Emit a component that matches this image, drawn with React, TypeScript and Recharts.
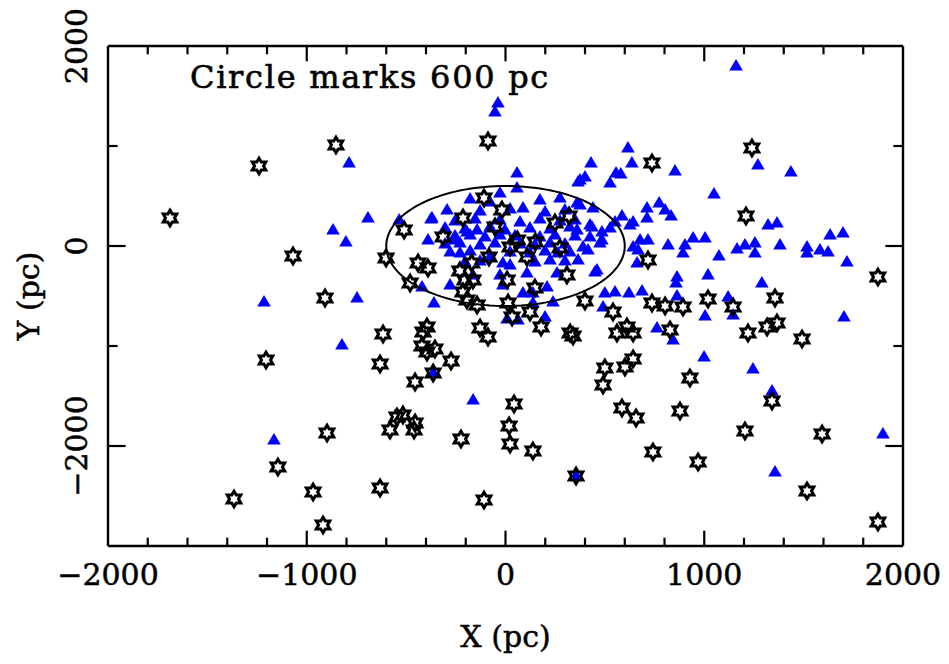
import React from 'react';
import { ScatterChart, Scatter, XAxis, YAxis, Customized } from 'recharts';

// ---- axis definitions ----
const xDomain: [number, number] = [-2000, 2000];
const yDomain: [number, number] = [-3000, 2000];
const xTicks = [-2000, -1800, -1600, -1400, -1200, -1000, -800, -600, -400, -200, 0, 200, 400, 600, 800, 1000, 1200, 1400, 1600, 1800, 2000];
const yTicks = [-3000, -2000, -1000, 0, 1000, 2000];
const xLabelValues = [-2000, -1000, 0, 1000, 2000];
const yLabelValues = [-2000, 0, 2000];
const xTitle = 'X (pc)';
const yTitle = 'Y (pc)';
const noteText = 'Circle marks 600 pc';
const circleRadius = 600;

// ---- blue triangles (X, Y in pc) ----
const triangleX = [
  1160, -38, -53, -787, 430, 58, 365, 400, 526, 556, -692, -868, -803, -535, -370, -294, -28, 58, 88, 360,
  440, 435, 485, 1270, 1436, 616, 636, 853, 580, 1049, 773, 712, 803, 833, 586, 551, 642, 712, 1321, 1366,
  677, 717, 667, 818, 903, 944, 1004, 893, 1074, 1165, 1205, 1255, 1255, 1381, 1517, 1517, 1582, 1623, 1633, 1698,
  1718, 662, 1019, 863, 858, 1290, 500, 551, 621, 687, 863, 1120, 1004, 1145, 1703, 762, 843, 999, 1245, 1341,
  1899, 1356, 491, -1215, -1165, -747, -823, -360, -163, -420, -279, -13, 8, 63, 199, 138, 138, 209, 239, 450,
  259, 108, -28, -375, -390, -264, -194, -143, 375, 375, 425, 485, 626, 642, 360, 390, 23, 224, 365, 460,
  88, -13, 264, 415, -164, -78, -229, -364, 355,
  -178, -78, 173, 274, -128, 23, 199, 299, -254, -153, -28, 73, 173, 274, 350,
  -304, -204, -78, -3, 123, 224, 324, 526, -254, -178, -103, -28, 48, 173, 249, 350, 425,
  -304, -229, -128, -53, 73, 148, 224, 299, 475, -279, -178, 23, 123, 199, 324, -204, -128, 148, 299,
];
const triangleY = [
  1800, 1430, 1340, 830, 830, 730, 640, 690, 630, 730, 280, 160, 40, 260, 280, 360, 530, 580, 380, 430,
  380, 190, 60, 810, 740, 980, 830, 750, 720, 520, 430, 380, 360, 300, 300, 240, 240, 280, 210, 230,
  60, 60, -40, 10, 10, 80, 80, -70, -100, -30, 10, 30, -70, 10, -10, -70, -40, -60, 110, 130,
  -160, -170, -290, -310, -370, -370, -470, -460, -470, -450, -500, -510, -700, -690, -710, -820, -940, -1110, -1230, -1450,
  -1880, -2260, -610, -560, -1940, -520, -990, -570, -1540, -410, -390, -390, -730, -740, -710, -570, -470, -410, -560, -260,
  -270, -270, -290, 270, 60, 60, 140, 160, 660, 410, 210, 140, 210, -10, 160, -10, -190, -140, -140, -240,
  -470, -170, -70, -40, -290, -110, -70, -1270, -2300,
  470, 440, 460, 480, 350, 370, 340, 360, 250, 270, 260, 240, 270, 250, 260,
  180, 170, 190, 160, 180, 170, 190, 180, 100, 110, 90, 110, 100, 90, 110, 100, 90,
  20, 30, 10, 30, 20, 10, 30, 20, 30, -60, -50, -60, -70, -50, -60, -160, -150, -160, -150,
];

// ---- black six-pointed stars (X, Y in pc) ----
const starX = [
  -1688, -1240, -1069, -853, -88, -510, -601, -214, -108, -18, -53, 249, 320, -314, 23, 108, -440, -390, -83, 1240,
  737, 1210, 1874, 717, 737, 803, 893, 1019, 1145, 1356, 1316, 1366, 1220, 1492, 541, 561, 611, 642, 828, 500,
  491, 601, 642, 928, 586, 657, 878, 1341, 1205, 1593, 742, 969, 1517, 1874, -1205, -1145, -1366, -968, -918, -898,
  -908, -616, -631, -455, -364, -274, -395, -415, -420, -395, -355, 43, 18, 23, 138, -224, -581, -546, -516, -455,
  -460, -631, -108, 355, 340, 325, -128, -88, 400, 179, 123, 33, 13, -143, -214, -204, -164, -480, 309, 148,
  8, -194, 274, -230, 60, 150, -170,
];
const starY = [
  280, 800, -100, 1010, 1050, 160, -120, 280, 480, 360, 190, 230, 300, 90, -10, -110, -170, -220, -110, 980,
  830, 300, -310, -140, -570, -600, -610, -530, -610, -520, -810, -770, -870, -930, -660, -870, -810, -870, -840, -1220,
  -1390, -1210, -1130, -1320, -1620, -1720, -1650, -1550, -1850, -1880, -2060, -2160, -2450, -2760, -1140, -2210, -2530, -2460, -2790, -1870,
  -520, -880, -1180, -1360, -1270, -1150, -810, -860, -1000, -1060, -1030, -1580, -1800, -1980, -2050, -1930, -1840, -1710, -1690, -1770,
  -1840, -2420, -2540, -2300, -900, -870, -820, -910, -550, -810, -660, -710, -570, -590, -460, -340, -340, -370, -290, -420,
  -340, -540, -20, -250, 60, 40, -170,
];

const triangles = triangleX.map((x, i) => ({ x, y: triangleY[i] }));
const stars = starX.map((x, i) => ({ x, y: starY[i] }));
const circlePoints = Array.from({ length: 145 }, (_, i) => {
  const a = (2 * Math.PI * i) / 144;
  return { x: circleRadius * Math.cos(a), y: circleRadius * Math.sin(a) };
});

// ---- tick-mark anchor points on the frame (drawn inward, PGPLOT style) ----
// anchors sit a hair inside the frame so they are never treated as out of range
const EPS = 3;
const innerXTicks = xTicks.filter((v) => v > xDomain[0] && v < xDomain[1]);
const innerYTicks = yTicks.filter((v) => v > yDomain[0] && v < yDomain[1]);
const isMajorX = (v: number) => v % 1000 === 0;
const isMajorY = (v: number) => v % 2000 === 0;
const bottomMajor = innerXTicks.filter(isMajorX).map((x) => ({ x, y: yDomain[0] + EPS }));
const bottomMinor = innerXTicks.filter((v) => !isMajorX(v)).map((x) => ({ x, y: yDomain[0] + EPS }));
const topMajor = innerXTicks.filter(isMajorX).map((x) => ({ x, y: yDomain[1] - EPS }));
const topMinor = innerXTicks.filter((v) => !isMajorX(v)).map((x) => ({ x, y: yDomain[1] - EPS }));
const leftMajor = innerYTicks.filter(isMajorY).map((y) => ({ x: xDomain[0] + EPS, y }));
const leftMinor = innerYTicks.filter((v) => !isMajorY(v)).map((y) => ({ x: xDomain[0] + EPS, y }));
const rightMajor = innerYTicks.filter(isMajorY).map((y) => ({ x: xDomain[1] - EPS, y }));
const rightMinor = innerYTicks.filter((v) => !isMajorY(v)).map((y) => ({ x: xDomain[1] - EPS, y }));

// ---- layout ----
const W = 933;
const H = 648;
const PLOT_LEFT = 100;
const PLOT_TOP = 38;
const PLOT_RIGHT = 895;
const PLOT_BOTTOM = 538;

const FONT = "'DejaVu Serif', 'Liberation Serif', serif";
const fmt = (v: number) => (v < 0 ? '\u2212' + Math.abs(v) : String(v));

const TriangleShape = (props: any) => {
  const { cx, cy } = props;
  if (cx == null || cy == null) return <g />;
  return (
    <polygon
      points={`${cx},${cy - 7} ${cx - 6.8},${cy + 4.6} ${cx + 6.8},${cy + 4.6}`}
      fill="#0000ff"
      stroke="none"
    />
  );
};

const StarShape = (props: any) => {
  const { cx, cy } = props;
  if (cx == null || cy == null) return <g />;
  const R = 7.8;
  const r = R / Math.sqrt(3);
  const pts: string[] = [];
  for (let k = 0; k < 12; k++) {
    const ang = -Math.PI / 2 + (k * Math.PI) / 6;
    const rad = k % 2 === 0 ? R : r;
    pts.push(`${cx + rad * Math.cos(ang)},${cy + rad * Math.sin(ang)}`);
  }
  return <polygon points={pts.join(' ')} fill="none" stroke="#000" strokeWidth={3} strokeLinejoin="miter" />;
};

const NoShape = () => <g />;

const makeTickShape = (dx: number, dy: number) => (props: any) => {
  const { cx, cy } = props;
  if (cx == null || cy == null) return <g />;
  return <line x1={cx} y1={cy} x2={cx + dx} y2={cy + dy} stroke="#000" strokeWidth={2.2} />;
};

const renderBottomTick = (props: any) => {
  const x = Number(props.x);
  const y = Number(props.y);
  const v = props.payload.value;
  if (!xLabelValues.includes(v)) return <g />;
  return (
    <text x={x} y={y + 28} textAnchor="middle" dominantBaseline="central" fontFamily={FONT} fontSize={30} fill="#000" stroke="#000" strokeWidth={0.5}>
      {fmt(v)}
    </text>
  );
};

const renderLeftTick = (props: any) => {
  const x = Number(props.x);
  const y = Number(props.y);
  const v = props.payload.value;
  if (!yLabelValues.includes(v)) return <g />;
  return (
    <text
      x={x - 32}
      y={y}
      transform={`rotate(-90 ${x - 32} ${y})`}
      textAnchor="middle"
      dominantBaseline="central"
      fontFamily={FONT}
      fontSize={30}
      fill="#000"
      stroke="#000"
      strokeWidth={0.5}
    >
      {fmt(v)}
    </text>
  );
};

const Texts = () => (
  <g>
    <text x={182} y={80} fontFamily={FONT} fontSize={32} letterSpacing={1.7} fill="#000" stroke="#000" strokeWidth={0.6}>
      {noteText}
    </text>
    <text x={(PLOT_LEFT + PLOT_RIGHT) / 2} y={628} textAnchor="middle" dominantBaseline="central" fontFamily={FONT} fontSize={30} fill="#000" stroke="#000" strokeWidth={0.5}>
      {xTitle}
    </text>
    <text
      x={20}
      y={(PLOT_TOP + PLOT_BOTTOM) / 2}
      transform={`rotate(-90 20 ${(PLOT_TOP + PLOT_BOTTOM) / 2})`}
      textAnchor="middle"
      dominantBaseline="central"
      fontFamily={FONT}
      fontSize={30}
      fill="#000"
      stroke="#000"
      strokeWidth={0.5}
    >
      {yTitle}
    </text>
  </g>
);

const axisLineStyle = { stroke: '#000', strokeWidth: 2.4 };

export default function App() {
  return (
    <ScatterChart
      width={W}
      height={H}
      margin={{ top: PLOT_TOP - 1, right: W - PLOT_RIGHT - 1, left: 0, bottom: 0 }}
      style={{ background: '#fff' }}
    >
      <XAxis
        xAxisId="b"
        type="number"
        dataKey="x"
        domain={xDomain}
        ticks={xTicks}
        interval={0}
        orientation="bottom"
        height={H - PLOT_BOTTOM}
        tickSize={0}
        tickMargin={0}
        tickLine={false}
        axisLine={axisLineStyle}
        tick={renderBottomTick}
        allowDataOverflow
      />
      <XAxis
        xAxisId="t"
        type="number"
        dataKey="x"
        domain={xDomain}
        orientation="top"
        height={1}
        tick={false}
        tickLine={false}
        axisLine={axisLineStyle}
        allowDataOverflow
      />
      <YAxis
        yAxisId="l"
        type="number"
        dataKey="y"
        domain={yDomain}
        ticks={yTicks}
        interval={0}
        orientation="left"
        width={PLOT_LEFT}
        tickSize={0}
        tickMargin={0}
        tickLine={false}
        axisLine={axisLineStyle}
        tick={renderLeftTick}
        allowDataOverflow
      />
      <YAxis
        yAxisId="r"
        type="number"
        dataKey="y"
        domain={yDomain}
        orientation="right"
        width={1}
        tick={false}
        tickLine={false}
        axisLine={axisLineStyle}
        allowDataOverflow
      />
      <Scatter xAxisId="t" yAxisId="r" data={stars} shape={<NoShape />} isAnimationActive={false} />
      <Scatter xAxisId="b" yAxisId="l" data={triangles} shape={<TriangleShape />} isAnimationActive={false} />
      <Scatter xAxisId="b" yAxisId="l" data={stars} shape={<StarShape />} isAnimationActive={false} />
      <Scatter
        xAxisId="b"
        yAxisId="l"
        data={circlePoints}
        shape={<NoShape />}
        line={{ stroke: '#000', strokeWidth: 2 }}
        lineJointType="linear"
        isAnimationActive={false}
      />
      <Scatter xAxisId="b" yAxisId="l" data={bottomMajor} shape={makeTickShape(0, -15)} isAnimationActive={false} />
      <Scatter xAxisId="b" yAxisId="l" data={bottomMinor} shape={makeTickShape(0, -8)} isAnimationActive={false} />
      <Scatter xAxisId="b" yAxisId="l" data={topMajor} shape={makeTickShape(0, 15)} isAnimationActive={false} />
      <Scatter xAxisId="b" yAxisId="l" data={topMinor} shape={makeTickShape(0, 8)} isAnimationActive={false} />
      <Scatter xAxisId="b" yAxisId="l" data={leftMajor} shape={makeTickShape(17, 0)} isAnimationActive={false} />
      <Scatter xAxisId="b" yAxisId="l" data={leftMinor} shape={makeTickShape(9, 0)} isAnimationActive={false} />
      <Scatter xAxisId="b" yAxisId="l" data={rightMajor} shape={makeTickShape(-17, 0)} isAnimationActive={false} />
      <Scatter xAxisId="b" yAxisId="l" data={rightMinor} shape={makeTickShape(-9, 0)} isAnimationActive={false} />
      <Customized component={Texts} />
    </ScatterChart>
  );
}
